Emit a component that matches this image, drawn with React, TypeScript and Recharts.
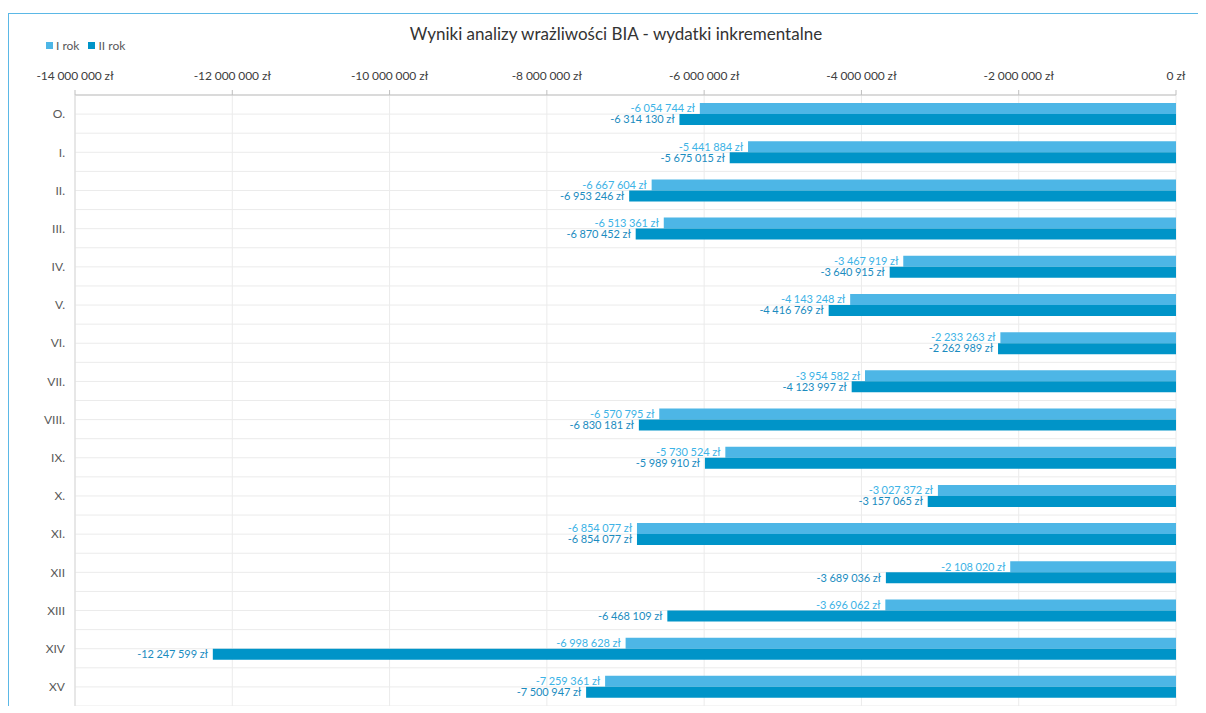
import React from 'react';
import { BarChart, Bar, XAxis, YAxis, CartesianGrid, LabelList } from 'recharts';

const categories = ['O.', 'I.', 'II.', 'III.', 'IV.', 'V.', 'VI.', 'VII.', 'VIII.', 'IX.', 'X.', 'XI.', 'XII', 'XIII', 'XIV', 'XV'];
const year1 = [-6054744, -5441884, -6667604, -6513361, -3467919, -4143248, -2233263, -3954582, -6570795, -5730524, -3027372, -6854077, -2108020, -3696062, -6998628, -7259361];
const year2 = [-6314130, -5675015, -6953246, -6870452, -3640915, -4416769, -2262989, -4123997, -6830181, -5989910, -3157065, -6854077, -3689036, -6468109, -12247599, -7500947];
const xTicks = [-14000000, -12000000, -10000000, -8000000, -6000000, -4000000, -2000000, 0];

const data = categories.map((c, i) => ({ name: c, y1: year1[i], y2: year2[i] }));

const C1 = '#4DB6E6';
const C2 = '#0094C8';
const L1 = '#3DB3E6';
const L2 = '#1B8CBF';

const fmt = (v: number) => {
  const s = Math.abs(Math.round(v)).toString().replace(/\B(?=(\d{3})+(?!\d))/g, ' ');
  return (v < 0 ? '-' : '') + s + ' zł';
};

const FONT = 'Lato, "DejaVu Sans", sans-serif';

const makeLabel = (color: string) => (props: any) => {
  const { x, y, width, height, value } = props;
  const left = Math.min(x, x + width);
  return (
    <text x={left - 5} y={y + height / 2} dy="0.35em" textAnchor="end" fill={color}
      fontSize={11} fontFamily={FONT} letterSpacing={-0.1}>
      {fmt(value)}
    </text>
  );
};

const gridGen = ({ offset }: any) => {
  const n = categories.length;
  const band = offset.height / n;
  const pts: number[] = [];
  for (let i = 0; i <= n * 2; i++) pts.push(offset.top + (band / 2) * i);
  return pts;
};

export default function App() {
  return (
    <div style={{ marginTop: 5, width: 1220, height: 692, borderTop: '1px solid #5BB8E6', borderLeft: '1px solid #5BB8E6', position: 'relative', background: '#fff' }}>
      <style>{'html,body{overflow:hidden}'}</style>
      <div style={{ position: 'absolute', left: 0, width: 1214, top: 9, textAlign: 'center', fontFamily: FONT, fontSize: 17, color: '#333' }}>
        Wyniki analizy wrażliwości BIA - wydatki inkrementalne
      </div>
      <div style={{ position: 'absolute', left: 37, top: 24, fontFamily: FONT, fontSize: 12, color: '#595959', display: 'flex', gap: 9 }}>
        <span style={{ display: 'flex', alignItems: 'center' }}>
          <span style={{ width: 7, height: 7, background: C1, display: 'inline-block', marginRight: 3 }} />I rok
        </span>
        <span style={{ display: 'flex', alignItems: 'center' }}>
          <span style={{ width: 7, height: 7, background: C2, display: 'inline-block', marginRight: 3 }} />II rok
        </span>
      </div>
      <BarChart width={1197} height={692} data={data} layout="vertical"
        margin={{ top: 51, right: 30, bottom: 0, left: 6 }} barSize={11} barGap={0}>
        <CartesianGrid stroke="#EBEBEB" horizontalCoordinatesGenerator={gridGen} />
        <XAxis type="number" orientation="top" domain={[-14000000, 0]} ticks={xTicks}
          tickFormatter={fmt} tickSize={5} tickMargin={10} height={30}
          axisLine={{ stroke: '#BFBFBF' }} tickLine={{ stroke: '#BFBFBF' }}
          tick={{ fill: '#404040', fontSize: 12, fontFamily: FONT, letterSpacing: -0.1 }} />
        <YAxis type="category" dataKey="name" width={60} tickLine={false}
          axisLine={{ stroke: '#D9D9D9' }} tickMargin={4}
          tick={{ fill: '#595959', fontSize: 12, fontFamily: FONT }} />
        <Bar dataKey="y1" fill={C1} isAnimationActive={false}>
          <LabelList dataKey="y1" content={makeLabel(L1)} />
        </Bar>
        <Bar dataKey="y2" fill={C2} isAnimationActive={false}>
          <LabelList dataKey="y2" content={makeLabel(L2)} />
        </Bar>
      </BarChart>
    </div>
  );
}
